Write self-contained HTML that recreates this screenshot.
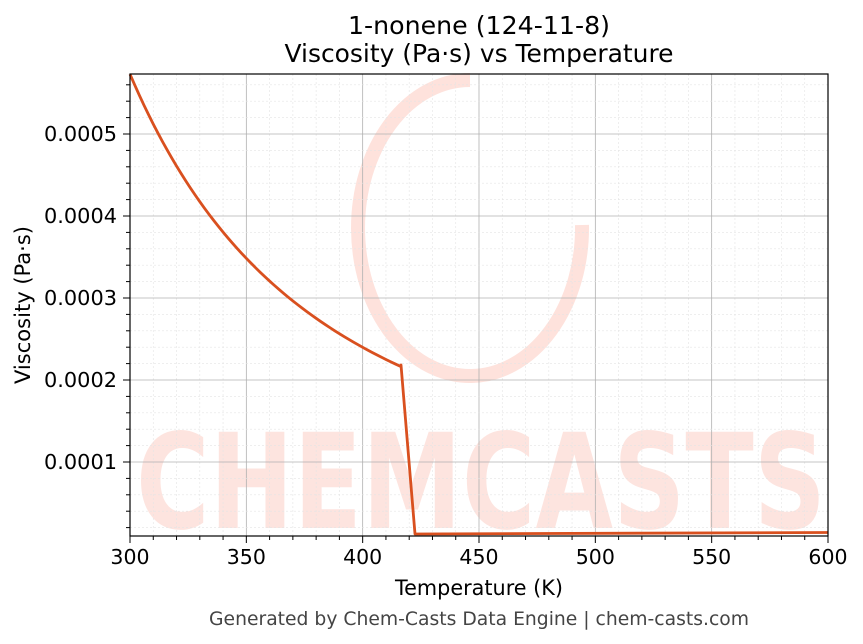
<!DOCTYPE html>
<html><head><meta charset="utf-8"><style>body{margin:0;background:#fff}svg{display:block;font-family:"DejaVu Sans","Liberation Sans",sans-serif}</style></head><body>
<svg width="863" height="644" viewBox="0 0 863 644" xmlns="http://www.w3.org/2000/svg">
<rect width="863" height="644" fill="#fff"/>
<g opacity="0.75">
<path d="M470 80 A112 148 0 1 0 582 225" fill="none" stroke="#fdd8d0" stroke-width="14"/>
<text x="481" y="528" text-anchor="middle" font-size="132" font-weight="bold" fill="#fddcd5" font-family="DejaVu Sans" textLength="690" lengthAdjust="spacingAndGlyphs">CHEMCASTS</text>
</g>
<g id="grid"></g>
<polyline id="curve" fill="none" stroke="#d9501f" stroke-width="2.8" stroke-linejoin="round"/>
<rect x="130" y="74" width="698" height="462" fill="none" stroke="#000" stroke-width="1.2"/>
<g id="ticks" font-size="20.5" fill="#000"></g>
<text x="479" y="34" text-anchor="middle" font-size="25" textLength="262" lengthAdjust="spacingAndGlyphs">1-nonene (124-11-8)</text>
<text x="479" y="62" text-anchor="middle" font-size="25" textLength="389" lengthAdjust="spacingAndGlyphs">Viscosity (Pa·s) vs Temperature</text>
<text x="479" y="595" text-anchor="middle" font-size="21" textLength="168" lengthAdjust="spacingAndGlyphs">Temperature (K)</text>
<text transform="translate(30,305) rotate(-90)" text-anchor="middle" font-size="21" textLength="158" lengthAdjust="spacingAndGlyphs">Viscosity (Pa·s)</text>
<text x="479" y="625" text-anchor="middle" font-size="19" fill="#444" textLength="540" lengthAdjust="spacingAndGlyphs">Generated by Chem-Casts Data Engine | chem-casts.com</text>
<script>
var ns="http://www.w3.org/2000/svg";
function X(t){return 130+(t-300)*698/300}
function Y(v){return 544-v*820000}
var g=document.getElementById('grid'),tk=document.getElementById('ticks');
function el(p,n,a){var e=document.createElementNS(ns,n);for(var k in a)e.setAttribute(k,a[k]);p.appendChild(e);return e}
for(var t=300;t<=600;t+=10){var x=X(t),maj=t%50==0;
 if(t>300&&t<600)el(g,'line',{x1:x,x2:x,y1:74,y2:536,stroke:maj?'#b0b0b0':'#e4e4e4','stroke-width':maj?0.8:0.6,'stroke-dasharray':maj?'':'2,2'});
 el(tk,'line',{x1:x,x2:x,y1:536,y2:maj?543:540,stroke:'#000','stroke-width':1});
 if(maj){var s=el(tk,'text',{x:x,y:564,'text-anchor':'middle'});s.textContent=t;}}
for(var i=1;i<=28;i++){var v=i*0.00002,y=Y(v);if(y<74)break;var maj=i%5==0;
 el(g,'line',{x1:130,x2:828,y1:y,y2:y,stroke:maj?'#b0b0b0':'#e4e4e4','stroke-width':maj?0.8:0.6,'stroke-dasharray':maj?'':'2,2'});
 el(tk,'line',{x1:130,x2:maj?123:126,y1:y,y2:y,stroke:'#000','stroke-width':1});
 if(maj){var s=el(tk,'text',{x:117,y:y+7,'text-anchor':'end','textLength':73,'lengthAdjust':'spacingAndGlyphs'});s.textContent=(v).toFixed(4);}}
var pts=[];for(var t=300;t<=416.5;t+=2){var v=0.000573*Math.exp(1045*(1/t-1/300));pts.push(X(t)+','+Y(v));}
pts.push('401,365');pts.push('415,534');pts.push('828,532.5');
document.getElementById('curve').setAttribute('points',pts.join(' '));
</script>
</svg>
</body></html>
